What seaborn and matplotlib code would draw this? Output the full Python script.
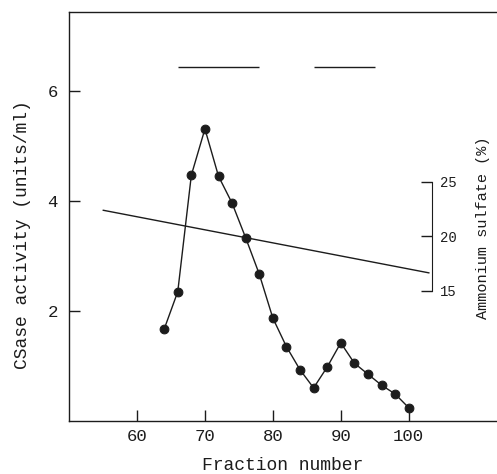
import numpy as np
import pandas as pd
import matplotlib
matplotlib.use("Agg")
import matplotlib.pyplot as plt
import seaborn as sns

# CSase activity per fraction
fractions = [64, 66, 68, 70, 72, 74, 76, 78, 80, 82, 84, 86, 88, 90, 92, 94, 96, 98, 100]
activity = [1.67, 2.35, 4.47, 5.31, 4.45, 3.96, 3.33, 2.67, 1.87, 1.35, 0.93, 0.60,
            0.98, 1.42, 1.05, 0.85, 0.65, 0.49, 0.24]

# ammonium sulfate gradient (%)
gradient_fraction = [55, 103]
gradient_pct = [22.4, 16.65]

# pooled fraction ranges (bars at the top)
pool_start = [66, 86]
pool_end = [78, 95]
pool_level = 6.44

sns.set_style("ticks")
plt.rcParams['font.family'] = ['Liberation Mono', 'DejaVu Sans Mono']
ink = "#1c1c1c"

fig = plt.figure(figsize=(4.97, 4.74), dpi=100)
ax = fig.add_axes([0.139, 0.112, 0.861, 0.863])

df = pd.DataFrame({"fraction": fractions, "activity": activity})
sns.lineplot(data=df, x="fraction", y="activity", ax=ax, color=ink, lw=1.0,
             marker="o", markersize=6.3, markeredgecolor=ink, markerfacecolor=ink)
ax.hlines([pool_level] * len(pool_start), pool_start, pool_end, color=ink, lw=1.0)

ax.set_xlim(50, 113)
ax.set_ylim(0, 7.44)
ax.set_xticks([60, 70, 80, 90, 100])
ax.set_yticks([2, 4, 6])
ax.tick_params(direction="in", length=8, width=1.0, colors=ink, labelsize=12.5)
ax.tick_params(axis="y", pad=8)
ax.tick_params(axis="x", pad=6)
for s in ["left", "bottom", "top"]:
    ax.spines[s].set_color(ink)
    ax.spines[s].set_linewidth(1.0)
ax.spines["right"].set_visible(False)

ax.set_xlabel("Fraction number", fontsize=13, color=ink)
ax.xaxis.set_label_coords(0.458, -0.088)
ax.set_ylabel("CSase activity (units/ml)", fontsize=13, color=ink)
ax.yaxis.set_label_coords(-0.09, 0.455)

# secondary axis for ammonium sulfate
ax2 = ax.twinx()
gd = pd.DataFrame({"fraction": gradient_fraction, "pct": gradient_pct})
sns.lineplot(data=gd, x="fraction", y="pct", ax=ax2, color=ink, lw=1.0)
ax2.set_ylim(3.07, 40.6)
ax2.set_xlim(50, 113)
for s in ["left", "bottom", "top"]:
    ax2.spines[s].set_visible(False)
ax2.spines["right"].set_position(("data", 103.4))
ax2.spines["right"].set_bounds(15, 25)
ax2.spines["right"].set_color(ink)
ax2.set_yticks([15, 20, 25])
ax2.tick_params(axis="y", direction="in", length=8, width=1.0, colors=ink,
                labelsize=10, pad=6)
ax2.set_ylabel("")
ax.set_xlabel("Fraction number", fontsize=13, color=ink)

fig.text(0.972, 0.519, "Ammonium sulfate (%)", rotation=90, ha="center",
         va="center", fontsize=11, color=ink)

plt.savefig("out.png", dpi=100)
